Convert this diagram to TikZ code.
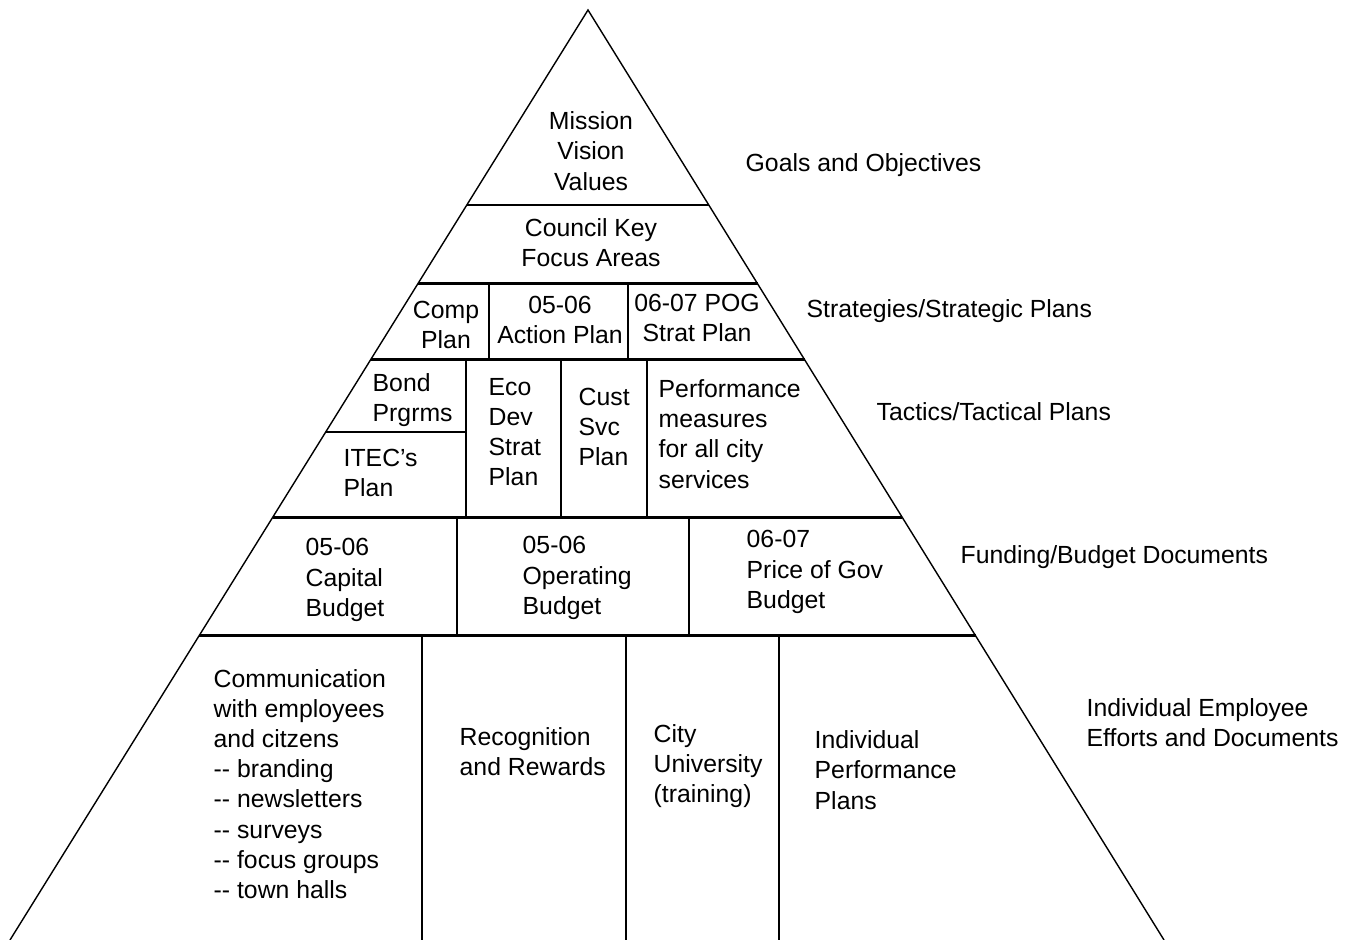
\documentclass[tikz,border=0pt]{standalone}
\usepackage{fontspec}
\setmainfont{Liberation Sans}
\usetikzlibrary{calc}

\tikzset{
  txt/.style={font=\fontsize{7.05}{8.6}\selectfont, inner sep=0pt, align=left, anchor=west},
  ctxt/.style={font=\fontsize{7.05}{8.6}\selectfont, inner sep=0pt, align=center},
  sep/.style={line width=0.85pt},
  side/.style={line width=0.4pt},
  vline/.style={line width=0.5pt}
}

\begin{document}
\begin{tikzpicture}[x=0.01cm,y=-0.01cm]
\useasboundingbox (0,0) rectangle (1351,940);
%Dreieck
\coordinate (apex) at (588,10);
\coordinate (bl) at (10,940);
\coordinate (br) at (1164,940);
\draw[side] (bl) -- (apex) -- (br);
\path (apex) -- (bl) coordinate[pos=0.2097] (l1) coordinate[pos=0.2946] (l2)
  coordinate[pos=0.3763] (l3) coordinate[pos=0.4538] (l4)
  coordinate[pos=0.5452] (l5) coordinate[pos=0.6731] (l6);
\path (apex) -- (br) coordinate[pos=0.2097] (r1) coordinate[pos=0.2946] (r2)
  coordinate[pos=0.3763] (r3)
  coordinate[pos=0.5452] (r5) coordinate[pos=0.6731] (r6);
%Ebenen
\draw[side] (l1) -- (r1);
\draw[sep] (l2) -- (r2);
\draw[sep] (l3) -- (r3);
\draw[sep] (l5) -- (r5);
\draw[sep] (l6) -- (r6);
%Strategien
\draw[vline] (489,284) -- (489,360);
\draw[vline] (628,284) -- (628,360);
%Taktik
\draw[vline] (466,360) -- (466,517);
\draw[vline] (561,360) -- (561,517);
\draw[vline] (647,360) -- (647,517);
\draw[vline] (l4) -- (466,432);
%Budget
\draw[vline] (457,517) -- (457,636);
\draw[vline] (689,517) -- (689,636);
%Mitarbeiter
\draw[vline] (422,636) -- (422,940);
\draw[vline] (626,636) -- (626,940);
\draw[vline] (779,636) -- (779,940);

% Texte im Dreieck
\node[ctxt] (mission) at (591,151) {Mission\\Vision\\Values};
\node[ctxt] (council) at (591,243) {Council Key\\Focus Areas};
\node[ctxt] (comp) at (446,325) {Comp\\Plan};
\node[ctxt] (action) at (560,320) {05-06\\Action Plan};
\node[ctxt] (pog) at (697,318) {06-07 POG\\Strat Plan};
\node[txt] (bond) at (372,400) {Bond\\Prgrms};
\node[txt] (itec) at (343,473) {ITEC’s\\Plan};
\node[txt] (eco) at (488,432) {Eco\\Dev\\Strat\\Plan};
\node[txt] (cust) at (578,427) {Cust\\Svc\\Plan};
\node[txt] (perf) at (658,434) {Performance\\measures\\for all city\\services};
\node[txt] (capital) at (305,580) {05-06\\Capital\\Budget};
\node[txt] (operating) at (522,578) {05-06\\Operating\\Budget};
\node[txt] (price) at (746,572) {06-07\\Price of Gov\\Budget};
\node[txt] (comm) at (213,784) {Communication\\with employees\\and citzens\\-{}- branding\\-{}- newsletters\\-{}- surveys\\-{}- focus groups\\-{}- town halls};
\node[txt] (recog) at (459,752) {Recognition\\and Rewards};
\node[txt] (univ) at (653,766) {City\\University\\(training)};
\node[txt] (indiv) at (814,770) {Individual\\Performance\\Plans};

% Beschriftung rechts
\node[txt] (goals) at (745,165) {Goals and Objectives};
\node[txt] (strat) at (806,311) {Strategies/Strategic Plans};
\node[txt] (tact) at (876,412) {Tactics/Tactical Plans};
\node[txt] (fund) at (960,557) {Funding/Budget Documents};
\node[txt] (effort) at (1086,723) {Individual Employee\\Efforts and Documents};
\end{tikzpicture}
\end{document}
